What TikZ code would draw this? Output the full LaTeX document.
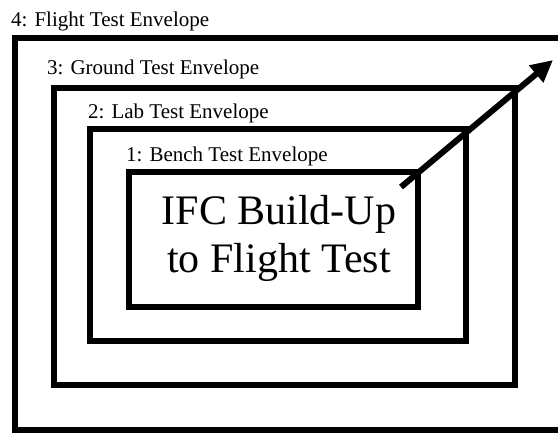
\documentclass[tikz,border=0pt]{standalone}
\usepackage{fontspec}
\setmainfont{Liberation Serif}
\usetikzlibrary{arrows.meta}
\begin{document}
\begin{tikzpicture}[x=1pt,y=-1pt,
  envbox/.style={draw=black,line width=6pt,inner sep=0pt,outer sep=0pt,rectangle},
  envlabel/.style={anchor=base west,inner sep=0pt,font=\fontsize{21}{25}\selectfont},
  titletext/.style={align=center,inner sep=0pt,font=\fontsize{42}{48}\selectfont}]
\useasboundingbox (0,0) rectangle (558,432);
% envelopes
\node[envbox,minimum width=555pt,minimum height=392pt] (env4) at (292.5,234) {};
\node[envbox,minimum width=461pt,minimum height=297pt] (env3) at (284.5,236.5) {};
\node[envbox,minimum width=376pt,minimum height=212pt] (env2) at (278,235) {};
\node[envbox,minimum width=289pt,minimum height=135pt] (env1) at (273.5,239.5) {};
% labels
\node[envlabel] (lab4) at (11,26) {4: Flight Test Envelope};
\node[envlabel] (lab3) at (47,74) {3: Ground Test Envelope};
\node[envlabel] (lab2) at (88,118) {2: Lab Test Envelope};
\node[envlabel] (lab1) at (126,161) {1: Bench Test Envelope};
% title
\node[titletext] (title) at (279,238) {IFC Build-Up\\to Flight Test};
% arrow
\coordinate (atail) at (401,187);
\coordinate (ahead) at (553,60);
\draw[line width=6pt,-{Triangle[length=22pt,width=21pt]}] (atail) -- (ahead);
\end{tikzpicture}
\end{document}
